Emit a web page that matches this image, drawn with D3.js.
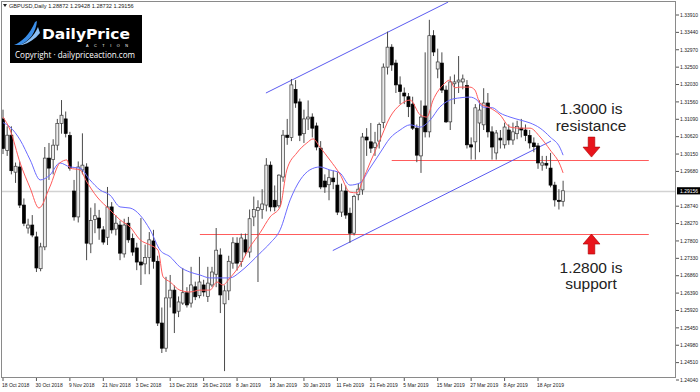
<!DOCTYPE html>
<html><head><meta charset="utf-8">
<script src="https://cdn.jsdelivr.net/npm/d3@7"></script>
<style>body{margin:0;background:#fff}svg{display:block}</style>
</head><body><svg id="c" width="700" height="392"></svg>
<script>
const symbol = "GBPUSD,Daily";
const lastQuote = ["1.28872","1.29428","1.28732","1.29156"];
const openP = [1.3110,1.3025,1.3066,1.2966,1.2980,1.2877,1.2815,1.2823,1.2791,1.2705,1.2764,1.3004,1.3000,1.3039,1.3098,1.3110,1.3065,1.2915,1.2845,1.2972,1.2980,1.2772,1.2838,1.2842,1.2810,1.2790,1.2872,1.2812,1.2823,1.2745,1.2828,1.2787,1.2761,1.2723,1.2718,1.2735,1.2780,1.2725,1.2558,1.2490,1.2626,1.2647,1.2590,1.2612,1.2640,1.2612,1.2656,1.2632,1.2661,1.2630,1.2661,1.2690,1.2742,1.2610,1.2645,1.2720,1.2774,1.2724,1.2783,1.2750,1.2845,1.2862,1.2865,1.2877,1.2985,1.2890,1.2875,1.2953,1.3066,1.3060,1.3190,1.3156,1.3070,1.3110,1.3115,1.3091,1.3031,1.2942,1.2932,1.2950,1.2931,1.2858,1.2915,1.2855,1.2801,1.2905,1.2918,1.3061,1.3048,1.3033,1.3050,1.3100,1.3250,1.3304,1.3261,1.3202,1.3180,1.3170,1.3150,1.3085,1.3010,1.3145,1.3075,1.3335,1.3245,1.3261,1.3188,1.3102,1.3205,1.3210,1.3210,1.3200,1.3040,1.3048,1.3099,1.3094,1.3153,1.3075,1.3018,1.3058,1.3040,1.3080,1.3053,1.3070,1.3085,1.3080,1.3065,1.3045,1.3037,1.2985,1.2990,1.2977,1.2931,1.2890,1.28872];
const highP = [1.3135,1.3090,1.3090,1.2992,1.2995,1.2895,1.2840,1.2850,1.2805,1.2775,1.3034,1.3045,1.3055,1.3110,1.3161,1.3130,1.3075,1.2945,1.2995,1.3071,1.2990,1.2870,1.2882,1.2864,1.2820,1.2926,1.2885,1.2850,1.2835,1.2840,1.2845,1.2800,1.2775,1.2842,1.2770,1.2804,1.2810,1.2740,1.2600,1.2683,1.2688,1.2660,1.2630,1.2707,1.2655,1.2710,1.2670,1.2737,1.2675,1.2710,1.2710,1.2815,1.2760,1.2660,1.2740,1.2790,1.2790,1.2800,1.2800,1.2865,1.2900,1.2890,1.2920,1.3004,1.2995,1.2930,1.2960,1.3080,1.3110,1.3218,1.3215,1.3165,1.3135,1.3160,1.3125,1.3100,1.3050,1.2960,1.2972,1.2970,1.2966,1.2935,1.2930,1.2870,1.2905,1.2935,1.3072,1.3085,1.3099,1.3075,1.3100,1.3260,1.3346,1.3312,1.3270,1.3225,1.3195,1.3180,1.3170,1.3095,1.3160,1.3290,1.3378,1.3350,1.3300,1.3290,1.3200,1.3225,1.3230,1.3280,1.3230,1.3215,1.3060,1.3150,1.3160,1.3193,1.3180,1.3090,1.3080,1.3080,1.3100,1.3095,1.3100,1.3105,1.3110,1.3095,1.3080,1.3060,1.3045,1.3010,1.3010,1.3018,1.2940,1.2920,1.29428];
const lowP = [1.3015,1.3010,1.2960,1.2937,1.2869,1.2820,1.2800,1.2790,1.2696,1.2698,1.2755,1.2945,1.2960,1.3025,1.3070,1.3060,1.2970,1.2835,1.2830,1.2960,1.2728,1.2747,1.2801,1.2783,1.2770,1.2769,1.2800,1.2795,1.2728,1.2735,1.2775,1.2740,1.2701,1.2661,1.2690,1.2690,1.2705,1.2550,1.2477,1.2480,1.2600,1.2531,1.2574,1.2607,1.2600,1.2600,1.2620,1.2625,1.2630,1.2615,1.2655,1.2655,1.2585,1.2428,1.2620,1.2705,1.2700,1.2710,1.2740,1.2735,1.2820,1.2669,1.2840,1.2860,1.2860,1.2860,1.2870,1.2940,1.3040,1.3050,1.3140,1.3050,1.3045,1.3080,1.3060,1.3025,1.2920,1.2910,1.2890,1.2920,1.2850,1.2845,1.2840,1.2775,1.2795,1.2890,1.2905,1.3010,1.3018,1.3010,1.3030,1.3085,1.3230,1.3240,1.3180,1.3150,1.3150,1.3115,1.3080,1.2993,1.2964,1.3060,1.3060,1.3280,1.3220,1.3180,1.3099,1.3080,1.3150,1.3180,1.3190,1.3030,1.3000,1.3000,1.3020,1.3080,1.3060,1.3000,1.3000,1.3030,1.3030,1.3040,1.3040,1.3055,1.3060,1.3050,1.3030,1.3020,1.2975,1.2970,1.2975,1.2925,1.2873,1.2865,1.28732];
const closeP = [1.3030,1.3066,1.2970,1.2982,1.2877,1.2828,1.2823,1.2796,1.2707,1.2764,1.3004,1.2977,1.3039,1.3098,1.3120,1.3071,1.2977,1.2845,1.2980,1.2985,1.2774,1.2835,1.2848,1.2815,1.2777,1.2872,1.2810,1.2828,1.2747,1.2823,1.2783,1.2750,1.2723,1.2715,1.2735,1.2783,1.2725,1.2558,1.2490,1.2626,1.2647,1.2585,1.2615,1.2640,1.2607,1.2661,1.2629,1.2669,1.2642,1.2666,1.2696,1.2755,1.2634,1.2645,1.2725,1.2775,1.2720,1.2788,1.2750,1.2840,1.2865,1.2870,1.2880,1.2985,1.2872,1.2872,1.2958,1.3066,1.3060,1.3202,1.3153,1.3066,1.3110,1.3115,1.3085,1.3034,1.2926,1.2926,1.2951,1.2940,1.2858,1.2915,1.2850,1.2801,1.2900,1.2920,1.3061,1.3053,1.3031,1.3045,1.3095,1.3250,1.3304,1.3256,1.3202,1.3184,1.3172,1.3143,1.3085,1.3012,1.3115,1.3075,1.3335,1.3291,1.3264,1.3188,1.3102,1.3210,1.3210,1.3215,1.3218,1.3040,1.3034,1.3140,1.3134,1.3153,1.3075,1.3034,1.3072,1.3053,1.3088,1.3053,1.3075,1.3090,1.3080,1.3065,1.3045,1.3035,1.2991,1.2991,1.2985,1.2931,1.2891,1.2887,1.29156];
const tickIndex = [0,8,16,24,32,40,48,56,64,72,80,88,96,104,112,120,128];
const tickLabels = ["18 Oct 2018","30 Oct 2018","9 Nov 2018","21 Nov 2018","3 Dec 2018","13 Dec 2018","26 Dec 2018","8 Jan 2019","18 Jan 2019","30 Jan 2019","11 Feb 2019","21 Feb 2019","5 Mar 2019","15 Mar 2019","27 Mar 2019","8 Apr 2019","18 Apr 2019"];
const priceTicks = ["1.33910","1.33440","1.32970","1.32500","1.32030","1.31560","1.31090","1.30620","1.30150","1.29680","1.28740","1.28270","1.27800","1.27330","1.26860","1.26390","1.25920","1.25450","1.24980","1.24510","1.24040"];
const redMaIdx = [0,1.7,4.1,6.5,8.6,11.2,13.6,15.3,16.0,18.4,20.1,22.5,25.6,28.0,30.4,32.8,35.2,37.1,38.3,40.0,42.3,44.7,47.1,49.5,51.2,52.6,54.3,56.7,59.1,61.5,63.9,66.3,67.9,70.3,72.7,74.2,75.8,78.2,80.6,83.0,84.7,86.1,87.8,90.2,92.6,95.0,97.4,99.8,101.4,102.9,105.3,106.9,108.1,109.3,111.7,112.9,114.1,116.5,118.9,121.3,123.7,126.1,128.5,130.9,133.3,134];
const redMaVal = [1.3115,1.3080,1.2991,1.2923,1.2869,1.2926,1.2991,1.2999,1.2977,1.2972,1.2939,1.2899,1.2864,1.2837,1.2818,1.2783,1.2769,1.2755,1.2683,1.2669,1.2647,1.2642,1.2647,1.2647,1.2669,1.2661,1.2680,1.2715,1.2764,1.2802,1.2845,1.2872,1.2972,1.3018,1.3045,1.3056,1.3034,1.2999,1.2961,1.2912,1.2910,1.2945,1.2991,1.3053,1.3115,1.3148,1.3161,1.3121,1.3115,1.3161,1.3202,1.3215,1.3194,1.3196,1.3196,1.3188,1.3153,1.3140,1.3121,1.3088,1.3085,1.3085,1.3061,1.3026,1.2985,1.2964];
const blueMaIdx = [0,1.7,4.1,6.5,8.9,11.2,13.6,16.0,18.4,20.8,23.2,25.6,28.0,30.4,35.2,37.6,40.0,42.3,44.7,47.1,49.5,51.9,54.3,56.7,59.1,61.5,63.9,66.3,68.7,71.1,73.4,75.8,78.2,80.6,83.0,85.4,87.8,90.2,92.6,95.0,97.4,99.8,102.2,104.5,106.9,109.3,111.7,113.4,114.8,117.2,118.9,121.3,123.7,126.1,128.5,130.9,133.3,134];
const blueMaVal = [1.3100,1.3088,1.3053,1.2999,1.2945,1.2958,1.2991,1.2980,1.2977,1.2945,1.2918,1.2904,1.2872,1.2869,1.2810,1.2755,1.2737,1.2710,1.2696,1.2688,1.2680,1.2680,1.2680,1.2696,1.2720,1.2747,1.2774,1.2810,1.2891,1.2945,1.2972,1.2980,1.2972,1.2964,1.2931,1.2937,1.2977,1.3018,1.3058,1.3080,1.3094,1.3088,1.3107,1.3142,1.3161,1.3167,1.3169,1.3161,1.3142,1.3140,1.3126,1.3115,1.3107,1.3099,1.3085,1.3061,1.3031,1.3012];
const resistanceLevel = 1.3000, supportLevel = 1.2800;
const resistanceFrom = 93, supportFrom = 47.1, levelsTo = 154.5;
const channelUpper = [[62.9,1.3180],[106.5,1.3426]];
const channelLower = [[78.9,1.2754],[131.1,1.3050]];
const currentPrice = 1.29156;

const svg = d3.select("#c");
const L = 1, R = 676, T = 1, B = 378;
const x = d3.scaleLinear().domain([0, 134]).range([3, 563.1]);
const y = d3.scaleLinear().domain([1.24040, 1.33910]).range([380, 15]);
const FONT = "'Liberation Sans', Arial, sans-serif";
const crisp = v => Math.round(v) + 0.5;

svg.append("defs").append("clipPath").attr("id","pc").append("rect")
  .attr("x",L).attr("y",T).attr("width",R-L).attr("height",B-T);
const plot = svg.append("g").attr("clip-path","url(#pc)");

// current price line
plot.append("line").attr("x1",L).attr("x2",R).attr("y1",crisp(y(currentPrice))).attr("y2",crisp(y(currentPrice)))
  .attr("stroke","#d2d2d2").attr("stroke-width",1.5);

// support / resistance
[[resistanceLevel,resistanceFrom],[supportLevel,supportFrom]].forEach(([lv,fr])=>{
  plot.append("line").attr("x1",x(fr)).attr("x2",x(levelsTo)).attr("y1",crisp(y(lv))).attr("y2",crisp(y(lv)))
   .attr("stroke","#ff5c5c").attr("stroke-width",1.2);
});
// channel
[channelUpper, channelLower].forEach(c=>{
  plot.append("line").attr("x1",x(c[0][0])).attr("y1",y(c[0][1])).attr("x2",x(c[1][0])).attr("y2",y(c[1][1]))
   .attr("stroke","#5b5bf0").attr("stroke-width",1);
});

// candles
const bars = d3.range(openP.length).map(i=>({i,o:openP[i],h:highP[i],l:lowP[i],c:closeP[i]}));
const g = plot.append("g");
g.selectAll("line.w").data(bars).join("line").attr("class","w")
  .attr("x1",d=>x(d.i)).attr("x2",d=>x(d.i)).attr("y1",d=>y(d.h)).attr("y2",d=>y(d.l))
  .attr("stroke","#4a4a4a").attr("stroke-width",1);
g.selectAll("rect.b").data(bars).join("rect").attr("class","b")
  .attr("x",d=>x(d.i)-1.5).attr("width",3)
  .attr("y",d=>Math.min(y(d.o),y(d.c)))
  .attr("height",d=>Math.max(1,Math.abs(y(d.o)-y(d.c))))
  .attr("fill",d=>d.c>=d.o?"#ececec":"#000")
  .attr("stroke",d=>d.c>=d.o?"#3a3a3a":"#000").attr("stroke-width",0.7);

// moving averages
const line = d3.line().x(d=>x(d[0])).y(d=>y(d[1])).curve(d3.curveMonotoneX);
plot.append("path").attr("d",line(blueMaIdx.map((v,k)=>[v,blueMaVal[k]])))
  .attr("fill","none").attr("stroke","#6b6bff").attr("stroke-width",1);
plot.append("path").attr("d",line(redMaIdx.map((v,k)=>[v,redMaVal[k]])))
  .attr("fill","none").attr("stroke","#ff5a5a").attr("stroke-width",1);

// frame
svg.append("rect").attr("x",L+0.5).attr("y",T+0.5).attr("width",R-L-1).attr("height",B-T-1)
  .attr("fill","none").attr("stroke","#8a8a8a").attr("stroke-width",1);

// right axis
const ra = svg.append("g");
priceTicks.forEach(t=>{
  const yy = y(+t);
  ra.append("line").attr("x1",R).attr("x2",R+3).attr("y1",yy).attr("y2",yy).attr("stroke","#555");
  ra.append("text").attr("x",R+4).attr("y",yy).attr("dy","0.35em").attr("font-family",FONT)
    .attr("font-size",5).attr("fill","#222").text(t);
});
ra.append("rect").attr("x",R+1).attr("y",y(currentPrice)-3.6).attr("width",23).attr("height",7.2).attr("fill","#000");
ra.append("text").attr("x",R+4).attr("y",y(currentPrice)).attr("dy","0.35em").attr("font-family",FONT)
  .attr("font-size",5).attr("fill","#fff").text(lastQuote[3]);

// bottom axis
const ba = svg.append("g");
tickIndex.forEach((ti,k)=>{
  const xx = x(ti);
  ba.append("line").attr("x1",xx).attr("x2",xx).attr("y1",B).attr("y2",B+3).attr("stroke","#555");
  ba.append("text").attr("x",xx-1).attr("y",B+8.5).attr("font-family",FONT).attr("font-size",5)
    .attr("fill","#222").text(tickLabels[k]);
});

// header
svg.append("path").attr("d","M3,4 L7,4 L5,7 Z").attr("fill","#222");
svg.append("text").attr("x",9).attr("y",7.8).attr("font-family",FONT).attr("font-size",5.6).attr("fill","#222")
  .text(symbol + "  " + lastQuote.join(" "));

// logo
const lg = svg.append("g");
lg.append("rect").attr("x",10).attr("y",15).attr("width",132).attr("height",48).attr("fill","#000");
lg.append("path").attr("d","M14,45 C22,42 30,34 35,22 L37,21 C36,32 30,41 20,45 Z").attr("fill","#3b8ee8");
lg.append("path").attr("d","M20,45 C28,42 34,36 38,27 L40,33 C35,39 29,43 22,45 Z").attr("fill","#8cc0f5");
lg.append("text").attr("x",42).attr("y",38.5).attr("font-family","'DejaVu Sans', sans-serif").attr("font-weight","bold")
  .attr("font-size",14.5).attr("fill","#fff").attr("textLength",88).attr("lengthAdjust","spacingAndGlyphs").text("DailyPrice");
lg.append("text").attr("x",86).attr("y",47).attr("font-family",FONT).attr("font-size",3.8).attr("fill","#fff")
  .attr("textLength",42).attr("lengthAdjust","spacing").text("ACTION");
lg.append("text").attr("x",15).attr("y",58).attr("font-family","'Open Sans', sans-serif").attr("font-size",8.2)
  .attr("fill","#fff").attr("textLength",120).attr("lengthAdjust","spacingAndGlyphs").text("Copyright · dailypriceaction.com");

// annotations
const ann = svg.append("g").attr("font-family",FONT).attr("font-size",15.5).attr("fill","#222").attr("text-anchor","middle");
ann.append("text").attr("x",591).attr("y",113.5).text("1.3000 is");
ann.append("text").attr("x",591).attr("y",130.5).text("resistance");
ann.append("text").attr("x",591).attr("y",272.5).text("1.2800 is");
ann.append("text").attr("x",591).attr("y",289).text("support");
function arrow(cx, tipY, dir){ // dir 1 = pointing down, -1 = pointing up
  const hw=8.5, sw=3.3, hl=10, sl=10;
  const base = tipY - dir*hl, end = base - dir*sl;
  return `M${cx},${tipY} L${cx-hw},${base} L${cx-sw},${base} L${cx-sw},${end} L${cx+sw},${end} L${cx+sw},${base} L${cx+hw},${base} Z`;
}
svg.append("path").attr("d",arrow(591.5, y(resistanceLevel)-2.5, 1)).attr("fill","#e8141b").attr("stroke","#a00").attr("stroke-width",0.6);
svg.append("path").attr("d",arrow(591.5, y(supportLevel)+0.5, -1)).attr("fill","#e8141b").attr("stroke","#a00").attr("stroke-width",0.6);
</script></body></html>
